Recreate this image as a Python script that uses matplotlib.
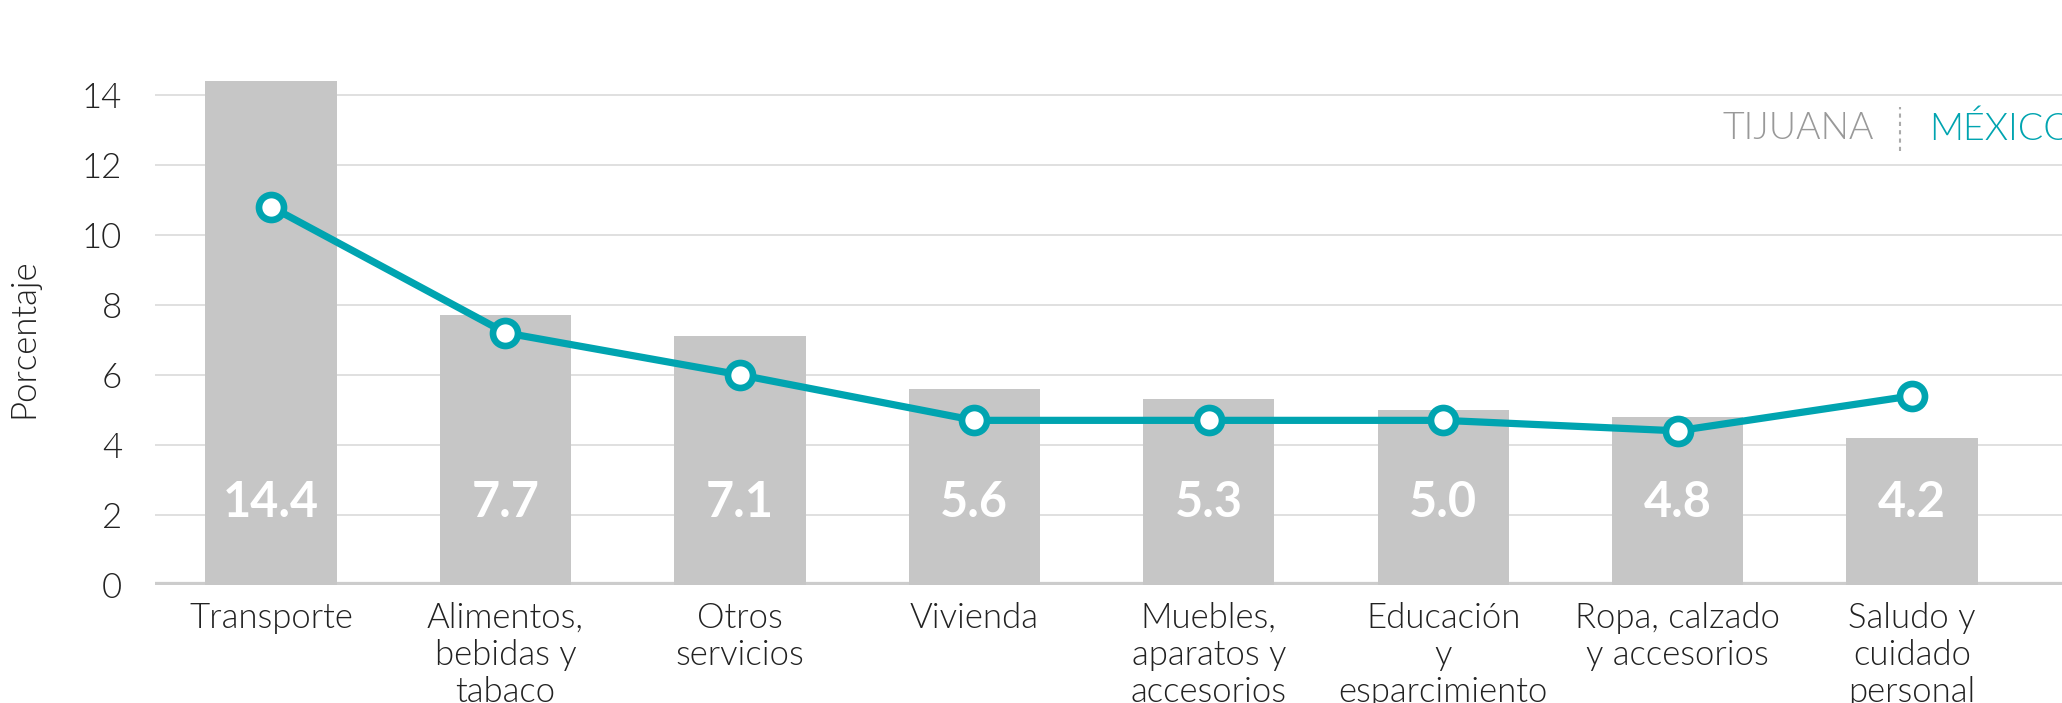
import numpy as np
import matplotlib.pyplot as plt
from matplotlib import font_manager
from matplotlib.lines import Line2D

categorias = ['Transporte', 'Alimentos,\nbebidas y\ntabaco', 'Otros\nservicios', 'Vivienda',
              'Muebles,\naparatos y\naccesorios', 'Educación\ny\nesparcimiento',
              'Ropa, calzado\ny accesorios', 'Saludo y\ncuidado\npersonal']
tijuana = [14.4, 7.7, 7.1, 5.6, 5.3, 5.0, 4.8, 4.2]
mexico = [10.8, 7.2, 6.0, 4.7, 4.7, 4.7, 4.4, 5.4]
y_ticks = [0, 2, 4, 6, 8, 10, 12, 14]

gris = '#c6c6c6'
teal = '#00a4b0'
texto = '#222222'

plt.rcParams['font.family'] = ['Lato', 'DejaVu Sans']

# Lato Light por archivo (el peso 'light' a veces toma Hairline)
ruta_light = [f.fname for f in font_manager.fontManager.ttflist
              if f.fname.endswith('Lato-Light.ttf')]
if ruta_light:
    def fp(size):
        return font_manager.FontProperties(fname=ruta_light[0], size=size)
else:
    def fp(size):
        return font_manager.FontProperties(family='Lato', size=size)

fig = plt.figure(figsize=(20.62, 7.03), dpi=100)
ax = fig.add_axes([0.0753, 0.168, 0.9247, 0.747])

x = np.arange(len(categorias))
ax.bar(x, tijuana, width=0.56, color=gris, zorder=2)
ax.plot(x, mexico, color=teal, lw=5.2, marker='o', markersize=18,
        markerfacecolor='white', markeredgecolor=teal, markeredgewidth=4.8, zorder=4)

# etiquetas de valor dentro de las barras
for xi, v in zip(x, tijuana):
    ax.text(xi, 2.35, f'{v:.1f}', ha='center', va='center', color='white',
            fontsize=35, fontweight='bold', zorder=3)

ax.set_xlim(-0.494, 7.64)
ax.set_ylim(0, 15)
ax.set_yticks(y_ticks)
ax.yaxis.grid(True, color='#dddddd', lw=1.3)
ax.set_axisbelow(True)
ax.axhline(0, color='#cccccc', lw=4.5, zorder=1)

for s in ax.spines.values():
    s.set_visible(False)

ax.set_xticks(x, categorias)
ax.tick_params(axis='x', length=0, pad=12, labelcolor=texto)
ax.tick_params(axis='y', length=0, pad=24, labelcolor=texto)
for lab in ax.get_xticklabels():
    lab.set_fontproperties(fp(25))
    lab.set_linespacing(1.2)
for lab in ax.get_yticklabels():
    lab.set_fontproperties(fp(25))

ax.set_ylabel('Porcentaje', fontproperties=fp(25), color=texto)
ax.yaxis.set_label_coords(-0.061, 0.47)

# leyenda tipo texto
fig.text(0.9089, 0.816, 'TIJUANA', ha='right', va='center', fontproperties=fp(27),
         color='#999999')
fig.text(0.9355, 0.816, 'MÉXICO', ha='left', va='center', fontproperties=fp(27),
         color=teal)
fig.add_artist(Line2D([0.9215, 0.9215], [0.785, 0.848], transform=fig.transFigure,
                      color='#aaaaaa', lw=1.5, linestyle=(0, (2, 2))))

plt.savefig('out.png', dpi=100)
